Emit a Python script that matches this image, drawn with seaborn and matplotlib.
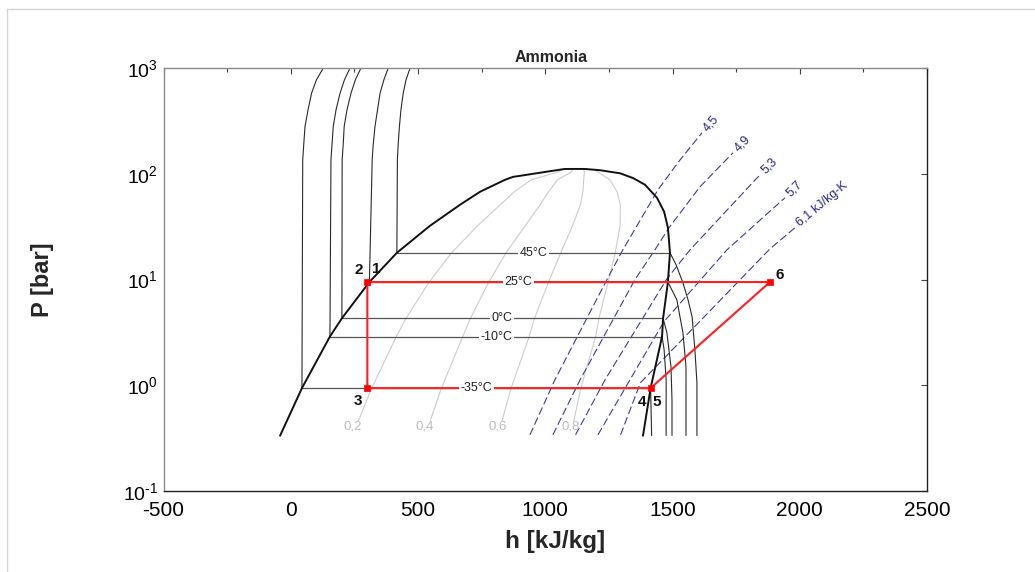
import matplotlib
matplotlib.use("Agg")
import matplotlib.pyplot as plt
from matplotlib.lines import Line2D
import matplotlib.ticker as mticker
import numpy as np
import pandas as pd
import seaborn as sns

# ---------------- data (h in kJ/kg, P in bar) ----------------
# saturation dome: liquid branch, over the critical region, down the vapour branch
dome_P = [0.333, 0.94, 2.89, 4.3, 9.46, 17.9, 32.2, 50.9, 67.6, 87.7, 93.5, 95.5,
          104, 111, 111, 108, 101, 91, 78.7, 59.3, 43.8, 30.9, 17.9, 9.46, 4.3,
          2.89, 0.94, 0.333]
dome_h = [-42, 44, 154, 201, 309, 417, 547, 665, 744, 842, 874, 900,
          999, 1077, 1156, 1215, 1294, 1345, 1392, 1439, 1467, 1482, 1490, 1482, 1463,
          1459, 1414, 1384]

# isotherms
iso_names = ["45°C", "25°C", "0°C", "-10°C", "-35°C"]
iso_Psat = [17.9, 9.46, 4.3, 2.89, 0.94]
iso_hf = [417, 309, 201, 154, 44]
iso_hg = [1490, 1482, 1463, 1459, 1414]

# compressed-liquid branches above the saturation pressure
liq_P = [135.6, 188, 280, 403, 580, 774, 1000]
liq_h = {
    "45°C": [419, 422, 427, 433, 442, 453, 469],
    "25°C": [320, 324, 331, 341, 351, 366, 383],
    "0°C": [202, 206, 210, 221, 237, 254, 276],
    "-10°C": [158, 162, 167, 178, 194, 211, 233],
    "-35°C": [47, 51, 56, 68, 82, 101, 128],
}

# superheated-vapour branches below the saturation pressure
vap_P = {
    "45°C": [13.8, 9.31, 6.43, 4.44, 2.17, 1.06, 0.335],
    "25°C": [6.43, 3.14, 1.50, 0.335],
    "0°C": [3.14, 1.50, 0.73, 0.335],
    "-10°C": [2.17, 1.13, 0.335],
    "-35°C": [0.335],
}
vap_h = {
    "45°C": [1514, 1541, 1561, 1577, 1588, 1596, 1596],
    "25°C": [1517, 1541, 1553, 1553],
    "0°C": [1478, 1494, 1498, 1498],
    "-10°C": [1467, 1475, 1475],
    "-35°C": [1418],
}

# lines of constant vapour quality
q_names = ["0,2", "0,4", "0,6", "0,8"]
q_P = [0.46, 0.94, 2.89, 4.3, 9.46, 17.9, 32.2, 50.9, 67.6, 87.7, 104]
q_h = {
    "0,2": [266, 318, 415, 453, 544, 632, 734, 823, 879, 945, 1051],
    "0,4": [548, 592, 676, 706, 778, 846, 921, 980, 1013, 1048, 1103],
    "0,6": [830, 866, 937, 958, 1013, 1061, 1107, 1138, 1148, 1151, 1154],
    "0,8": [1112, 1140, 1198, 1211, 1247, 1275, 1294, 1295, 1282, 1254, 1206],
}
q_top_h = [1065, 1108, 1150, 1195]
q_top_P = [109, 110.8, 110.8, 109]
q_label_h = [243, 528, 814, 1099]
q_label_P = 0.405

# isentropes [kJ/kg-K]
s_names = ["4,5", "4,9", "5,3", "5,7", "6,1 kJ/kg-K"]
s_h = [
    [940, 1038, 1242, 1305, 1443, 1530, 1616],
    [1030, 1137, 1352, 1431, 1486, 1608, 1738],
    [1119, 1235, 1478, 1569, 1844],
    [1207, 1333, 1466, 1714, 1942],
    [1296, 1374, 1883, 1981],
]
s_P = [
    [0.340, 1.127, 9.94, 19.1, 70.6, 135.6, 244],
    [0.340, 1.127, 9.94, 19.1, 30.8, 75.4, 158],
    [0.340, 1.127, 10.16, 19.1, 97.9],
    [0.340, 1.127, 3.98, 19.1, 59.3],
    [0.340, 1.056, 19.5, 30.8],
]
s_rot = [49, 46, 45, 45, 40]

# refrigeration cycle states
cycle_h = [301, 301, 1414, 1883, 301]
cycle_P = [9.46, 0.94, 0.94, 9.46, 9.46]
state_h = [301, 301, 1414, 1883]
state_P = [9.46, 0.94, 0.94, 9.46]

# ---------------- styling ----------------
sns.set_theme(style="white")
plt.rcParams["font.family"] = ["Liberation Sans", "DejaVu Sans"]
plt.rcParams["mathtext.fontset"] = "custom"
plt.rcParams["mathtext.rm"] = "Liberation Sans"
plt.rcParams["mathtext.it"] = "Liberation Sans:italic"
plt.rcParams["mathtext.bf"] = "Liberation Sans:bold"
plt.rcParams["axes.unicode_minus"] = False

W, H = 1035, 572
fig = plt.figure(figsize=(W / 100, H / 100), dpi=100)
fig.patch.set_facecolor("white")
ax = fig.add_axes([163.5 / W, 1 - 491 / H, (927 - 163.5) / W, (491 - 68) / H])
ax.set_facecolor("white")

# outer frame of the figure
fig.add_artist(Line2D([7 / W, 7 / W], [0, 1 - 9 / H], transform=fig.transFigure,
                      color="#d4d4d4", lw=1.0))
fig.add_artist(Line2D([7 / W, 1], [1 - 9 / H, 1 - 9 / H], transform=fig.transFigure,
                      color="#d4d4d4", lw=1.0))


def draw(df, **kw):
    sns.lineplot(data=df, x="h", y="P", units="curve", estimator=None, sort=False,
                 ax=ax, legend=False, **kw)


# quality lines
rows = []
for i, name in enumerate(q_names):
    for h, p in zip(q_h[name] + [q_top_h[i]], q_P + [q_top_P[i]]):
        rows.append((name, h, p))
draw(pd.DataFrame(rows, columns=["curve", "h", "P"]), color="#cdcdcd", lw=0.8)
for name, h in zip(q_names, q_label_h):
    ax.text(h, q_label_P, name, color="#bdbdbd", fontsize=9.5, ha="center", va="center")

# isentropes
rows = []
for name, hs, ps in zip(s_names, s_h, s_P):
    for h, p in zip(hs, ps):
        rows.append((name, h, p))
draw(pd.DataFrame(rows, columns=["curve", "h", "P"]), color="#3a3aa8", lw=0.8,
     linestyle=(0, (7, 3)))
for name, hs, ps, rot in zip(s_names, s_h, s_P, s_rot):
    ax.annotate(name, (hs[-1], ps[-1]), xytext=(3, 3), textcoords="offset pixels",
                color="#26268c", fontsize=9, rotation=rot, rotation_mode="anchor",
                ha="left", va="center")

# isotherms: compressed liquid, two-phase and superheated parts
rows = []
for name, ps, hf, hg in zip(iso_names, iso_Psat, iso_hf, iso_hg):
    for h, p in zip([hf] + liq_h[name], [ps] + liq_P):
        rows.append((name + "_l", h, p))
    for h, p in zip([hg] + vap_h[name], [ps] + vap_P[name]):
        rows.append((name + "_v", h, p))
draw(pd.DataFrame(rows, columns=["curve", "h", "P"]), color="#2a2a2a", lw=0.8)
rows = []
for name, ps, hf, hg in zip(iso_names, iso_Psat, iso_hf, iso_hg):
    rows += [(name, hf, ps), (name, hg, ps)]
draw(pd.DataFrame(rows, columns=["curve", "h", "P"]), color="#555555", lw=0.9)
for name, ps, hf, hg in zip(iso_names, iso_Psat, iso_hf, iso_hg):
    ax.text((hf + hg) / 2, ps, name, fontsize=9, ha="center", va="center",
            color="#222222",
            bbox=dict(boxstyle="square,pad=0.12", fc="white", ec="none"))

# saturation dome
draw(pd.DataFrame({"curve": "dome", "h": dome_h, "P": dome_P}), color="#111111", lw=1.4)

# cycle
draw(pd.DataFrame({"curve": "cycle", "h": cycle_h, "P": cycle_P}), color="#ff2020", lw=1.5)
sns.scatterplot(x=state_h, y=state_P, ax=ax, marker="s", s=14, color="#ff0000",
                edgecolor="#ff0000", linewidth=0.5, zorder=5, legend=False)
state_text = [("2", 0, -9, 12), ("1", 0, 9, 13), ("3", 1, -9, -13),
              ("4", 2, -9, -14), ("5", 2, 6, -14), ("6", 3, 10, 7)]
for txt, k, dx, dy in state_text:
    ax.annotate(txt, (state_h[k], state_P[k]), xytext=(dx, dy), textcoords="offset pixels",
                fontsize=11, fontweight="bold", ha="center", va="center", color="#111111")


def decade_label(v, pos):
    e = int(round(np.log10(v)))
    exp = r"\text{-}" + str(-e) if e < 0 else str(e)
    return r"$10^{" + exp + "}$"


# axes
ax.set_yscale("log")
ax.set_xlim(-500, 2500)
ax.set_ylim(0.1, 1000)
ax.xaxis.set_major_locator(mticker.MultipleLocator(500))
ax.xaxis.set_minor_locator(mticker.MultipleLocator(250))
ax.yaxis.set_major_locator(mticker.LogLocator(base=10, numticks=10))
ax.yaxis.set_major_formatter(mticker.FuncFormatter(decade_label))
ax.yaxis.set_minor_locator(mticker.NullLocator())
ax.tick_params(axis="both", which="both", direction="in", top=True, right=True,
               colors="#444444", labelcolor="black")
ax.tick_params(axis="both", which="major", length=4, width=0.8)
ax.tick_params(axis="x", which="minor", length=3, width=0.8)
ax.tick_params(axis="x", which="major", labelsize=15, pad=7)
ax.tick_params(axis="y", which="major", labelsize=14, pad=4)
for side, col in (("left", "#8a8a8a"), ("top", "#8a8a8a"),
                  ("bottom", "#222222"), ("right", "#222222")):
    ax.spines[side].set_color(col)
    ax.spines[side].set_linewidth(1.0)
    ax.spines[side].set_visible(True)

ax.set_title("Ammonia", fontsize=11.5, fontweight="bold", pad=4, x=0.508)
ax.set_xlabel("h [kJ/kg]", fontsize=17.5, fontweight="bold")
ax.set_ylabel("P [bar]", fontsize=17, fontweight="bold")
ax.xaxis.set_label_coords(0.513, -0.093)
ax.yaxis.set_label_coords(-0.143, 0.5)

fig.savefig("out.png", dpi=100, facecolor="white")
